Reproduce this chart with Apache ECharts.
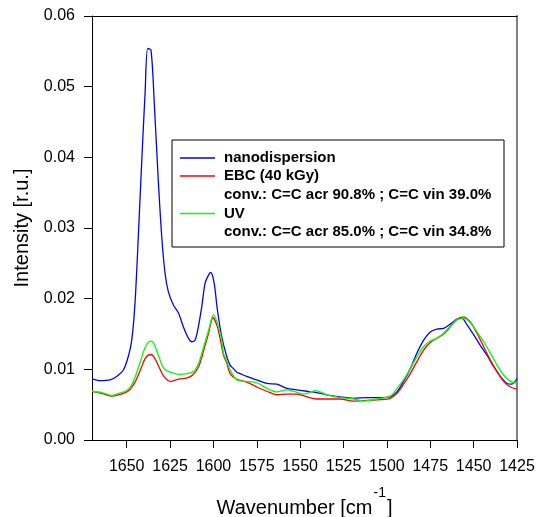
<!DOCTYPE html>
<html>
<head>
<meta charset="utf-8">
<script src="https://cdn.jsdelivr.net/npm/echarts@6/dist/echarts.min.js"></script>
<style>html,body{margin:0;padding:0;background:#fff;}#c{width:537px;height:517px;}</style>
</head>
<body>
<div id="c"></div>
<script>
const FONT = 'Liberation Sans, Arial, Helvetica, sans-serif';

const xTicks = [1650, 1625, 1600, 1575, 1550, 1525, 1500, 1475, 1450, 1425];
const yTicks = [0, 0.01, 0.02, 0.03, 0.04, 0.05, 0.06];

const seriesNames = ['nanodispersion', 'EBC (40 kGy)', 'UV'];
const convLines = ['conv.: C=C acr 90.8% ; C=C vin 39.0%', 'conv.: C=C acr 85.0% ; C=C vin 34.8%'];
const seriesColors = ['#0000ff', '#ff0000', '#00ff00'];

const wnNano = [1670, 1665.4, 1659.6, 1655.8, 1651.9, 1649.1, 1647.1, 1645.2, 1643.3, 1641.3, 1639.4, 1637.9, 1636.0, 1634.1, 1631.8, 1629.8, 1627.9, 1626.0, 1623.1, 1620.2, 1617.3, 1614.4, 1612.5, 1610.6, 1608.7, 1606.7, 1604.8, 1602.9, 1601.5, 1599.6, 1597.7, 1595.2, 1592.3, 1590.4, 1588.5, 1586.5, 1584.6, 1580.8, 1575, 1569.2, 1563.4, 1557.7, 1551.9, 1546.1, 1540.4, 1534.6, 1526.9, 1519.2, 1511.5, 1503.8, 1498.1, 1494.2, 1490.4, 1486.5, 1482.7, 1478.9, 1475, 1471.2, 1467.3, 1463.5, 1459.6, 1456.7, 1453.8, 1450, 1446.2, 1442.3, 1438.5, 1434.6, 1430.8, 1428, 1425];
const intNano = [0.0087, 0.0084, 0.0085, 0.0090, 0.0099, 0.0118, 0.0141, 0.0194, 0.0288, 0.0396, 0.0491, 0.0554, 0.0552, 0.0477, 0.0368, 0.0288, 0.0236, 0.0210, 0.0191, 0.0180, 0.0160, 0.0144, 0.0139, 0.0141, 0.0160, 0.0189, 0.0222, 0.0233, 0.0237, 0.0222, 0.0184, 0.0146, 0.0118, 0.0106, 0.0101, 0.0096, 0.0094, 0.0090, 0.0085, 0.0080, 0.0079, 0.0073, 0.0071, 0.0069, 0.0067, 0.0064, 0.0061, 0.0059, 0.0060, 0.0060, 0.0061, 0.0068, 0.0083, 0.0101, 0.0123, 0.0141, 0.0153, 0.0157, 0.0158, 0.0164, 0.0171, 0.0172, 0.0163, 0.0149, 0.0134, 0.0120, 0.0104, 0.0090, 0.0080, 0.0079, 0.0087];

const wnEbc = [1670, 1664.2, 1658.5, 1654.6, 1650.8, 1647.9, 1645, 1642.1, 1639.2, 1636.3, 1634.4, 1631.5, 1628.6, 1624.8, 1620, 1615.2, 1612, 1608.5, 1605.6, 1602.7, 1600.3, 1597.7, 1595.2, 1594.2, 1592.3, 1590.4, 1586.5, 1580.8, 1575, 1569.2, 1563.4, 1557.7, 1551.9, 1546.1, 1540.4, 1534.6, 1526.9, 1519.2, 1511.5, 1503.8, 1498.1, 1494.2, 1490.4, 1486.5, 1482.7, 1478.9, 1475, 1471.2, 1467.3, 1463.5, 1459.6, 1455.8, 1451.9, 1448.1, 1444.2, 1440.4, 1436.5, 1432.7, 1428.8, 1425];
const intEbc = [0.0069, 0.0066, 0.0062, 0.0064, 0.0067, 0.0072, 0.0083, 0.0099, 0.0116, 0.0121, 0.0118, 0.0104, 0.0090, 0.0083, 0.0086, 0.0088, 0.0092, 0.0104, 0.0127, 0.0152, 0.0173, 0.0160, 0.0132, 0.0120, 0.0109, 0.0094, 0.0086, 0.0082, 0.0075, 0.0069, 0.0064, 0.0065, 0.0065, 0.0061, 0.0058, 0.0058, 0.0058, 0.0055, 0.0056, 0.0057, 0.0059, 0.0066, 0.0079, 0.0094, 0.0111, 0.0127, 0.0138, 0.0144, 0.0150, 0.0160, 0.0171, 0.0174, 0.0167, 0.0151, 0.0132, 0.0113, 0.0097, 0.0083, 0.0075, 0.0072];

const wnUv = [1670, 1664.2, 1658.5, 1654.6, 1650.8, 1647.9, 1645, 1642.1, 1639.2, 1636.3, 1634.4, 1631.5, 1628.6, 1624.8, 1620, 1615.2, 1611.3, 1608.5, 1605.6, 1602.7, 1600, 1597.7, 1595.2, 1594.2, 1592.3, 1590.4, 1586.5, 1580.8, 1575, 1569.2, 1563.4, 1557.7, 1553.8, 1548.1, 1541.3, 1534.6, 1526.9, 1519.2, 1513.5, 1505.8, 1498.1, 1494.2, 1490.4, 1486.5, 1482.7, 1478.9, 1475, 1471.2, 1467.3, 1463.5, 1459.6, 1455.8, 1451.9, 1448.1, 1444.2, 1440.4, 1436.5, 1432.7, 1428.8, 1425];
const intUv = [0.0069, 0.0067, 0.0063, 0.0066, 0.0069, 0.0075, 0.0090, 0.0111, 0.0132, 0.0140, 0.0137, 0.0118, 0.0101, 0.0096, 0.0093, 0.0094, 0.0097, 0.0109, 0.0132, 0.0156, 0.0177, 0.0165, 0.0141, 0.0123, 0.0112, 0.0099, 0.0085, 0.0083, 0.0081, 0.0073, 0.0068, 0.0071, 0.0069, 0.0065, 0.0070, 0.0064, 0.0060, 0.0058, 0.0055, 0.0058, 0.0062, 0.0073, 0.0085, 0.0101, 0.0118, 0.0132, 0.0140, 0.0144, 0.0151, 0.0161, 0.0170, 0.0172, 0.0166, 0.0153, 0.0139, 0.0123, 0.0106, 0.0092, 0.0083, 0.0080];

function pairs(xs, ys) { return xs.map((x, i) => [x, ys[i]]); }

const chart = echarts.init(document.getElementById('c'), null, { renderer: 'canvas' });

const GL = 92, GT = 16, GR = 517, GB = 440;

function lineSeries(name, color, data) {
  return {
    name: name, type: 'line', data: data, showSymbol: false, smooth: 0.3,
    lineStyle: { color: color, width: 1.3 }, itemStyle: { color: color },
    animation: false, silent: true, xAxisIndex: 0, yAxisIndex: 0
  };
}

const legendRowsY = [158, 176, 195, 213.5, 232];
const legendItems = [
  { text: seriesNames[0], color: seriesColors[0] },
  { text: seriesNames[1], color: seriesColors[1] },
  { text: convLines[0], color: null },
  { text: seriesNames[2], color: seriesColors[2] },
  { text: convLines[1], color: null }
];
const legendGraphics = [{
  type: 'rect', shape: { x: 172, y: 140, width: 332, height: 107 },
  style: { fill: '#fff', stroke: '#000', lineWidth: 1 }, z: 100
}];
legendItems.forEach((it, i) => {
  if (it.color) {
    legendGraphics.push({ type: 'line', shape: { x1: 180, y1: legendRowsY[i], x2: 215, y2: legendRowsY[i] },
      style: { stroke: it.color, lineWidth: 1.5 }, z: 101 });
  }
  legendGraphics.push({ type: 'text', x: 224, y: legendRowsY[i],
    style: { text: it.text, fill: '#000', font: 'bold 15px ' + FONT, textVerticalAlign: 'middle', textAlign: 'left' }, z: 101 });
});

chart.setOption({
  backgroundColor: '#fff',
  animation: false,
  grid: { left: GL, top: GT, right: 537 - GR, bottom: 517 - GB, containLabel: false, outerBoundsMode: 'none' },
  xAxis: [{
    type: 'value', min: 1425, max: 1670, interval: 25, inverse: true,
    name: '{m|Wavenumber [cm}{sup|-1}{m|]}', nameLocation: 'middle', nameGap: 46,
    nameTextStyle: { fontFamily: FONT, fontSize: 20, color: '#000',
      rich: {
        m: { fontFamily: FONT, fontSize: 20, color: '#000', verticalAlign: 'bottom' },
        sup: { fontFamily: FONT, fontSize: 14, color: '#000', verticalAlign: 'top', padding: [0, 1, 18, 1] }
      } },
    axisLine: { show: true, onZero: false, lineStyle: { color: '#000', width: 1 } },
    axisTick: { show: true, inside: false, length: 8, lineStyle: { color: '#000' }, customValues: xTicks },
    axisLabel: { show: true, margin: 19, fontFamily: FONT, fontSize: 16, color: '#000', customValues: xTicks,
      formatter: v => String(v) },
    splitLine: { show: false }
  }, {
    type: 'value', min: 1425, max: 1670, inverse: true, position: 'top',
    axisLine: { show: true, onZero: false, lineStyle: { color: '#000', width: 1 } },
    axisTick: { show: false }, axisLabel: { show: false }, splitLine: { show: false }
  }],
  yAxis: [{
    type: 'value', min: 0, max: 0.06, interval: 0.01,
    name: 'Intensity [r.u.]', nameLocation: 'middle', nameGap: 58,
    nameTextStyle: { fontFamily: FONT, fontSize: 20, color: '#000' },
    axisLine: { show: true, onZero: false, lineStyle: { color: '#000', width: 1 } },
    axisTick: { show: true, inside: false, length: 8, lineStyle: { color: '#000' } },
    axisLabel: { show: true, margin: 17, fontFamily: FONT, fontSize: 16, color: '#000',
      formatter: v => v.toFixed(2) },
    splitLine: { show: false }
  }, {
    type: 'value', min: 0, max: 0.06, position: 'right',
    axisLine: { show: true, onZero: false, lineStyle: { color: '#808080', width: 2 } },
    axisTick: { show: false }, axisLabel: { show: false }, splitLine: { show: false }
  }],
  series: [
    lineSeries(seriesNames[0], seriesColors[0], pairs(wnNano, intNano)),
    lineSeries(seriesNames[1], seriesColors[1], pairs(wnEbc, intEbc)),
    lineSeries(seriesNames[2], seriesColors[2], pairs(wnUv, intUv))
  ],
  graphic: legendGraphics
});
</script>
</body>
</html>
